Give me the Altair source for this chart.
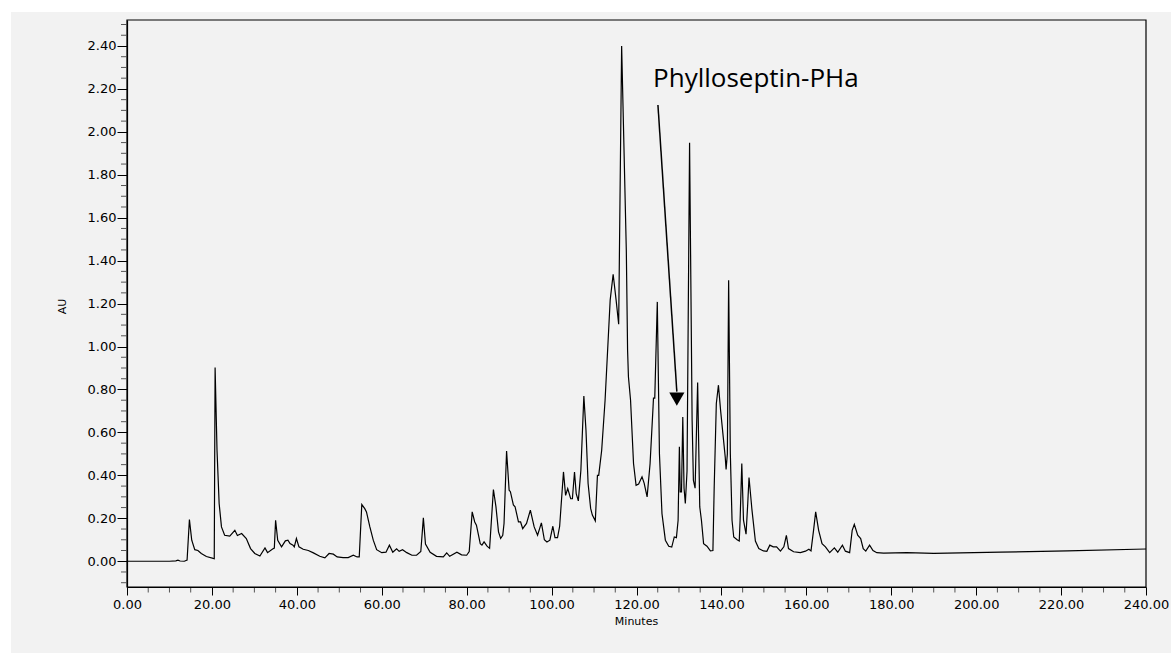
import altair as alt
import pandas as pd

# Chromatogram trace (minutes, absorbance units)
minutes = [0.0, 10.0, 11.5, 12.0, 12.5, 13.5, 14.15, 14.7, 15.25, 15.96, 16.7, 17.5, 18.7, 20.3, 20.55,
           20.75, 21.2, 21.7, 22.25, 23.0, 24.2, 25.4, 26.0, 27.0, 28.1, 29.1, 30.1, 31.3, 32.5, 33.1,
           34.3, 34.7, 35.0, 35.5, 36.4, 37.3, 37.9, 38.4, 39.1, 39.4, 39.9, 40.5, 41.5, 42.7, 43.9,
           45.4, 46.6, 47.6, 48.6, 49.5, 50.9, 52.1, 53.3, 54.2, 54.7, 55.3, 56.0, 56.4, 57.2, 58.0,
           58.8, 60.0, 61.0, 61.8, 62.6, 63.5, 64.1, 64.9, 65.9, 67.1, 68.2, 69.2, 69.8, 70.3, 71.4,
           72.9, 74.5, 75.3, 76.0, 77.7, 78.8, 80.0, 80.6, 81.3, 81.9, 82.3, 83.2, 83.6, 84.1, 84.8,
           85.4, 86.3, 86.9, 87.5, 88.0, 88.5, 88.8, 89.4, 90.0, 90.3, 91.0, 91.4, 92.2, 92.7, 93.2,
           94.1, 95.0, 95.9, 96.7, 97.6, 98.3, 98.9, 99.6, 100.3, 100.8, 101.4, 101.9, 102.8, 103.3,
           103.8, 104.5, 104.9, 105.4, 105.8, 106.3, 106.9, 107.6, 108.1, 108.6, 109.2, 109.6, 110.3,
           110.8, 111.1, 111.8, 112.6, 113.4, 113.8, 114.5, 115.2, 115.8, 116.5, 117.6, 117.9, 118.1,
           118.6, 119.3, 119.9, 120.5, 121.3, 121.8, 122.5, 123.2, 123.9, 124.0, 124.3, 124.9, 125.4,
           126.0, 126.8, 127.6, 128.3, 128.9, 129.4, 129.8, 130.1, 130.3, 130.6, 130.9, 131.2, 131.5,
           131.9, 132.5, 133.1, 133.4, 133.8, 134.4, 134.9, 135.3, 135.8, 136.6, 137.4, 138.0, 138.3,
           138.8, 139.3, 139.8, 140.5, 140.9, 141.1, 141.4, 141.7, 142.1, 142.5, 142.9, 143.7, 144.2,
           144.4, 144.8, 145.2, 145.8, 146.2, 146.5, 147.2, 148.0, 148.8, 149.9, 150.7, 151.4, 152.2,
           153.0, 153.9, 154.7, 155.3, 155.8, 157.0, 158.6, 159.8, 160.6, 161.1, 161.7, 162.2, 162.9,
           163.7, 164.5, 165.5, 166.6, 167.4, 168.5, 169.2, 170.2, 170.8, 171.3, 172.1, 172.8, 173.4,
           174.0, 174.9, 175.7, 176.6, 178.2, 183.7, 190.0, 205.7, 221.5, 240.0]
au = [0.0, 0.0, 0.002, 0.005, 0.001, 0.0, 0.005, 0.194, 0.098, 0.054, 0.050, 0.036, 0.022, 0.013, 0.012,
      0.902, 0.517, 0.269, 0.160, 0.121, 0.117, 0.144, 0.120, 0.129, 0.106, 0.059, 0.036, 0.024, 0.062, 0.040,
      0.057, 0.061, 0.191, 0.098, 0.067, 0.095, 0.098, 0.082, 0.075, 0.067, 0.106, 0.067, 0.056, 0.050, 0.039,
      0.023, 0.016, 0.036, 0.033, 0.020, 0.017, 0.017, 0.028, 0.020, 0.020, 0.264, 0.245, 0.230, 0.160, 0.098,
      0.054, 0.040, 0.042, 0.075, 0.042, 0.058, 0.046, 0.054, 0.040, 0.028, 0.028, 0.045, 0.202, 0.080, 0.042,
      0.023, 0.020, 0.039, 0.023, 0.042, 0.030, 0.028, 0.045, 0.230, 0.183, 0.168, 0.082, 0.075, 0.090, 0.070,
      0.060, 0.334, 0.253, 0.137, 0.106, 0.121, 0.176, 0.513, 0.331, 0.324, 0.262, 0.254, 0.183, 0.183, 0.152,
      0.176, 0.238, 0.160, 0.121, 0.179, 0.100, 0.090, 0.098, 0.163, 0.110, 0.110, 0.163, 0.416, 0.307,
      0.338, 0.291, 0.291, 0.416, 0.315, 0.281, 0.424, 0.769, 0.610, 0.362, 0.246, 0.215, 0.188,
      0.400, 0.400, 0.517, 0.750, 1.061, 1.216, 1.337, 1.216, 1.104, 2.400, 1.450, 0.983, 0.859,
      0.750, 0.455, 0.354, 0.360, 0.393, 0.364, 0.300, 0.455, 0.719, 0.760, 0.760, 1.208, 0.502,
      0.222, 0.098, 0.070, 0.066, 0.113, 0.110, 0.191, 0.533, 0.323, 0.323, 0.672, 0.340, 0.269,
      0.420, 1.949, 0.657, 0.377, 0.340, 0.833, 0.253, 0.190, 0.082, 0.070, 0.048, 0.050, 0.346,
      0.735, 0.820, 0.704, 0.564, 0.485, 0.427, 0.500, 1.309, 0.502, 0.191, 0.113, 0.100, 0.094,
      0.191, 0.455, 0.191, 0.126, 0.269, 0.390, 0.238, 0.094, 0.059, 0.048, 0.046, 0.075, 0.067,
      0.067, 0.047, 0.067, 0.121, 0.059, 0.044, 0.040, 0.047, 0.056, 0.048, 0.144, 0.230, 0.144,
      0.082, 0.067, 0.040, 0.062, 0.042, 0.075, 0.047, 0.040, 0.144, 0.172, 0.121, 0.106, 0.059,
      0.047, 0.075, 0.050, 0.040, 0.038, 0.040, 0.037, 0.042, 0.048, 0.057]

# Axis tick positions
x_major = [0, 20, 40, 60, 80, 100, 120, 140, 160, 180, 200, 220, 240]
x_minor = [5, 10, 15, 25, 30, 35, 45, 50, 55, 65, 70, 75, 85, 90, 95, 105, 110, 115, 125, 130, 135,
           145, 150, 155, 165, 170, 175, 185, 190, 195, 205, 210, 215, 225, 230, 235]
y_major = [0.0, 0.2, 0.4, 0.6, 0.8, 1.0, 1.2, 1.4, 1.6, 1.8, 2.0, 2.2, 2.4]
y_minor = [-0.10, -0.05, 0.05, 0.10, 0.15, 0.25, 0.30, 0.35, 0.45, 0.50, 0.55, 0.65, 0.70, 0.75,
           0.85, 0.90, 0.95, 1.05, 1.10, 1.15, 1.25, 1.30, 1.35, 1.45, 1.50, 1.55, 1.65, 1.70, 1.75,
           1.85, 1.90, 1.95, 2.05, 2.10, 2.15, 2.25, 2.30, 2.35, 2.45, 2.50]

# Annotation
label_text = ["Phylloseptin-PHa"]
label_pos = [123.9, 2.209]
arrow_from = [125.05, 2.125]
arrow_to = [129.5, 0.79]
arrow_head = [129.5, 0.755]

trace = pd.DataFrame({"t": minutes, "au": au})

x_scale = alt.Scale(domain=[0, 240], nice=False, zero=False)
y_scale = alt.Scale(domain=[-0.12, 2.521], nice=False, zero=False)

FONT = "DejaVu Sans"

x_axis = alt.Axis(
    values=x_major, format=".2f", tickSize=8, tickColor="#000000",
    grid=False, domainColor="#000000", domainWidth=1.2,
    labelFont=FONT, labelFontSize=13, labelColor="#000000", labelPadding=3,
    labelOverlap=False, labelFlush=False, labelBound=False,
    title="Minutes", titleFont=FONT, titleFontSize=11, titleFontWeight="normal",
    titleColor="#000000", titleX=509, titleY=34, titleBaseline="middle", titleAnchor="middle",
    zindex=1,
)
y_axis = alt.Axis(
    values=y_major, format=".2f", tickSize=10, tickColor="#000000",
    grid=False, domainColor="#000000", domainWidth=1.2,
    labelFont=FONT, labelFontSize=13, labelColor="#000000", labelPadding=1,
    labelOverlap=False, labelFlush=False, labelBound=False,
    title="AU", titleFont=FONT, titleFontSize=11, titleFontWeight="normal",
    titleColor="#000000", titleX=-65, titleY=286, titleBaseline="middle", titleAngle=-90,
    zindex=1,
)

# light-grey panel behind the whole figure (white margin around it, as in the reference)
panel = alt.Chart(pd.DataFrame({"a": [0]})).mark_rect(color="#f2f2f2").encode(
    x=alt.value(-116), x2=alt.value(1044), y=alt.value(-8), y2=alt.value(633)
)
frame = alt.Chart(pd.DataFrame({"a": [0]})).mark_rect(
    fill=None, stroke="#000000", strokeWidth=1.2
).encode(x=alt.value(0), x2=alt.value(1019), y=alt.value(0), y2=alt.value(567))

line = alt.Chart(trace).mark_line(color="#000000", strokeWidth=1.2, interpolate="linear").encode(
    x=alt.X("t:Q", scale=x_scale, axis=x_axis),
    y=alt.Y("au:Q", scale=y_scale, axis=y_axis),
)

x_minor_ticks = alt.Chart(pd.DataFrame({"t": x_minor})).mark_rule(
    color="#555555", strokeWidth=1, clip=False
).encode(x=alt.X("t:Q", scale=x_scale), y=alt.value(567), y2=alt.value(572.5))

y_minor_ticks = alt.Chart(pd.DataFrame({"au": y_minor})).mark_rule(
    color="#555555", strokeWidth=1, clip=False
).encode(y=alt.Y("au:Q", scale=y_scale), x=alt.value(-6), x2=alt.value(0))

arrow_df = pd.DataFrame({"t": [arrow_from[0]], "au": [arrow_from[1]],
                         "t2": [arrow_to[0]], "au2": [arrow_to[1]]})
arrow = alt.Chart(arrow_df).mark_rule(color="#000000", strokeWidth=1.5).encode(
    x=alt.X("t:Q", scale=x_scale), y=alt.Y("au:Q", scale=y_scale),
    x2="t2:Q", y2="au2:Q",
)
head = alt.Chart(pd.DataFrame({"t": [arrow_head[0]], "au": [arrow_head[1]]})).mark_point(
    shape="triangle-down", filled=True, color="#000000", size=230, opacity=1
).encode(x=alt.X("t:Q", scale=x_scale), y=alt.Y("au:Q", scale=y_scale))

label = alt.Chart(pd.DataFrame({"t": [label_pos[0]], "au": [label_pos[1]], "txt": label_text})).mark_text(
    align="left", baseline="alphabetic", font="Open Sans", fontSize=26, color="#000000"
).encode(x=alt.X("t:Q", scale=x_scale), y=alt.Y("au:Q", scale=y_scale), text="txt:N")

chart = alt.layer(panel, line, frame, x_minor_ticks, y_minor_ticks, arrow, head, label).properties(
    width=1019, height=567,
    autosize=alt.AutoSizeParams(type="none"),
    padding={"left": 127, "top": 20, "right": 29, "bottom": 66},
    background="#ffffff",
).configure_view(stroke=None)

chart.save("out.html", embed_options={"renderer": "svg", "actions": False})
